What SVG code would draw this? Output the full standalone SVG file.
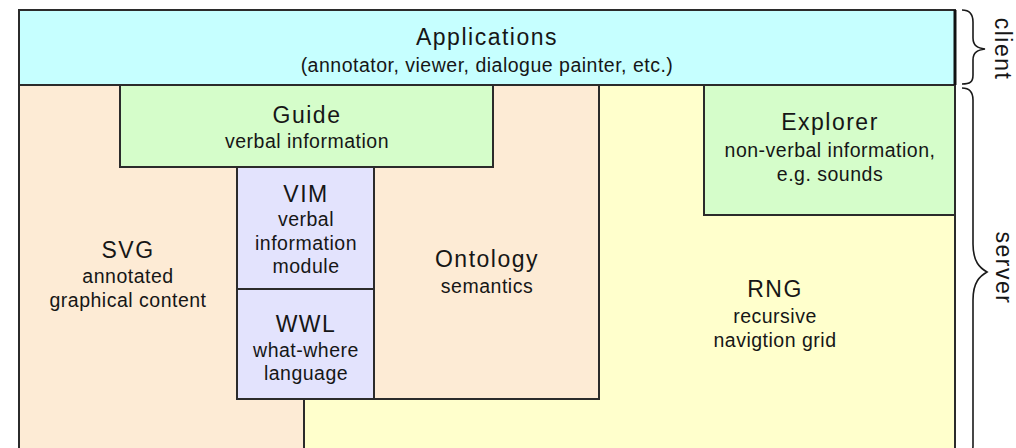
<svg xmlns="http://www.w3.org/2000/svg" width="1016" height="448" viewBox="0 0 1016 448">
  <style>
    .box { stroke: #2b2b2b; stroke-width: 2; stroke-linejoin: miter; }
    .cyan { fill: #c6ffff; }
    .peach { fill: #fdebd5; }
    .green { fill: #d5fdca; }
    .yellow { fill: #ffffcc; }
    .lav { fill: #e3e3fd; }
    text { font-family: "Liberation Sans", Arial, sans-serif; fill: #161616; text-anchor: middle; }
    .title { font-size: 23px; letter-spacing: 1.5px; }
    .sub { font-size: 19.5px; letter-spacing: 0.5px; }
    .brace { fill: none; stroke: #1a1a1a; stroke-width: 1.6; }
  </style>

  <rect width="1016" height="448" fill="#ffffff"/>

  <!-- left peach area: SVG -->
  <g id="svg-layer">
    <polygon class="box peach" points="19,85 374,85 374,399 304,399 304,452 19,452"/>
    <text class="title" x="128" y="258">SVG</text>
    <text class="sub" x="128" y="283">annotated</text>
    <text class="sub" x="128" y="307">graphical content</text>
  </g>

  <!-- ontology column -->
  <g id="ontology">
    <rect class="box peach" x="374" y="85" width="225" height="314"/>
    <text class="title" x="487" y="267">Ontology</text>
    <text class="sub" x="487" y="293">semantics</text>
  </g>

  <!-- RNG base area -->
  <g id="rng">
    <polygon class="box yellow" points="599,85 955,85 955,452 304,452 304,399 599,399"/>
    <text class="title" x="775" y="297">RNG</text>
    <text class="sub" x="775" y="323">recursive</text>
    <text class="sub" x="775" y="347">navigtion grid</text>
  </g>

  <g id="explorer">
    <rect class="box green" x="704" y="85" width="251" height="130"/>
    <text class="title" x="830" y="130">Explorer</text>
    <text class="sub" x="830" y="157">non-verbal information,</text>
    <text class="sub" x="830" y="181">e.g. sounds</text>
  </g>

  <g id="guide">
    <rect class="box green" x="120" y="85" width="373" height="82"/>
    <text class="title" x="307" y="123">Guide</text>
    <text class="sub" x="307" y="148">verbal information</text>
  </g>

  <g id="vim">
    <rect class="box lav" x="237" y="167" width="137" height="122"/>
    <text class="title" x="306" y="202">VIM</text>
    <text class="sub" x="306" y="226">verbal</text>
    <text class="sub" x="306" y="250">information</text>
    <text class="sub" x="306" y="273">module</text>
  </g>

  <g id="wwl">
    <rect class="box lav" x="237" y="289" width="137" height="110"/>
    <text class="title" x="306" y="332">WWL</text>
    <text class="sub" x="306" y="357">what-where</text>
    <text class="sub" x="306" y="380">language</text>
  </g>

  <g id="applications">
    <rect class="box cyan" x="19" y="10" width="936" height="75"/>
    <line x1="955" y1="10" x2="955" y2="85" stroke="#111" stroke-width="3"/>
    <text class="title" x="487" y="45">Applications</text>
    <text class="sub" x="487" y="72">(annotator, viewer, dialogue painter, etc.)</text>
  </g>

  <!-- tier braces on the right -->
  <g id="braces">
    <path class="brace" d="M962,10 C970,10 973,14 973,22 L973,38 C973,46 978,48 985,49 C978,50 973,52 973,60 L973,75 C973,82 970,84 962,84"/>
    <path class="brace" d="M962,88 C970,88 973,92 973,100 L973,244 C973,262 980,268 987,272 C980,276 973,282 973,300 L973,446 C973,452 970,456 962,458"/>
    <text class="title" transform="translate(995,49) rotate(90)">client</text>
    <text class="title" transform="translate(996,268) rotate(90)">server</text>
  </g>
</svg>
